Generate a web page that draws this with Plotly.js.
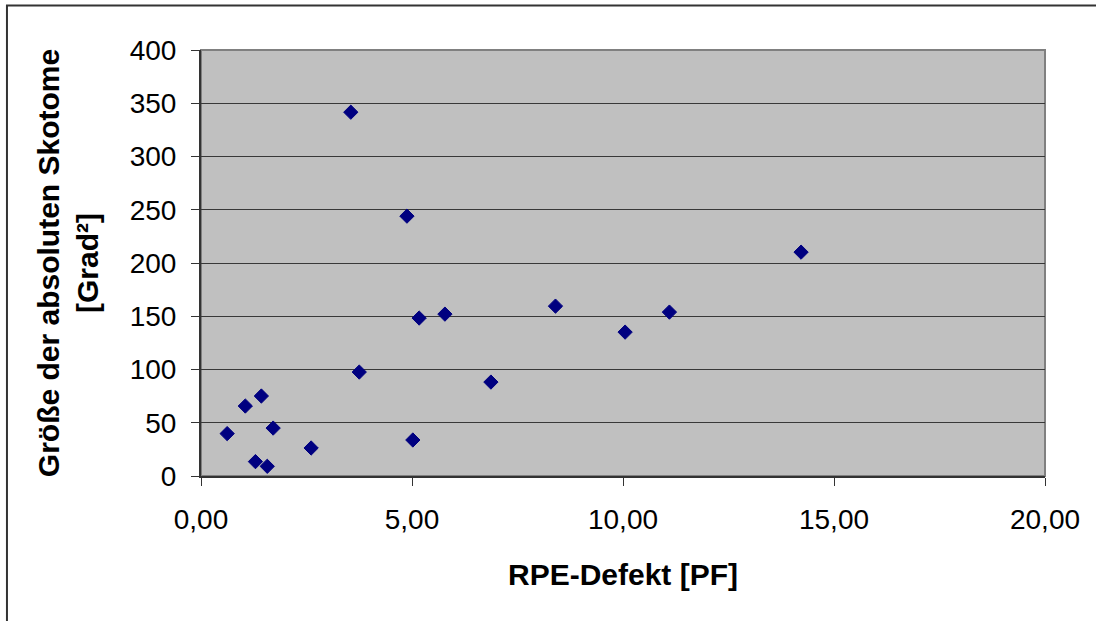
<!DOCTYPE html>
<html>
<head>
<meta charset="utf-8">
<script src="https://cdn.plot.ly/plotly-3.0.1.min.js"></script>
<style>
  html, body { margin: 0; padding: 0; background: #fff; }
  #chart { width: 1096px; height: 621px; }
</style>
</head>
<body>
<div id="chart"></div>
<script>
// RPE defect [PF] vs size of absolute scotoma [deg²]
const rpeDefekt = [0.62, 1.05, 1.29, 1.43, 1.57, 1.71, 2.61, 3.55, 3.75, 4.88, 5.02, 5.17, 5.78, 6.87, 8.40, 10.05, 11.10, 14.22];
const skotomGroesse = [39.8, 65.7, 13.5, 75.1, 9.1, 45.0, 26.3, 341.6, 97.6, 244.0, 33.8, 148.3, 152.0, 88.2, 159.5, 135.1, 153.9, 210.2];

const xTitle = 'RPE-Defekt [PF]';
const yTitle = 'Größe der absoluten Skotome<br>[Grad²]';

const fontFamily = '"Liberation Sans", Arial, sans-serif';

const trace = {
  x: rpeDefekt,
  y: skotomGroesse,
  type: 'scatter',
  mode: 'markers',
  marker: { symbol: 'diamond', size: 11, color: '#000080', line: { color: '#000080', width: 1 } },
  hoverinfo: 'x+y',
  showlegend: false
};

const layout = {
  width: 1096,
  height: 621,
  margin: { l: 201, r: 51, t: 50, b: 145, pad: 0 },
  paper_bgcolor: '#ffffff',
  plot_bgcolor: '#c0c0c0',
  separators: ',.',
  font: { family: fontFamily, color: '#000000', size: 28 },
  xaxis: {
    range: [0, 20],
    dtick: 5,
    tick0: 0,
    tickformat: '.2f',
    showgrid: false,
    zeroline: false,
    showline: true,
    linecolor: '#333333',
    linewidth: 2,
    ticks: 'outside',
    ticklen: 8,
    tickwidth: 1,
    tickcolor: '#333333',
    ticklabelstandoff: 9,
    tickfont: { size: 28, family: fontFamily },
    title: { text: xTitle, font: { size: 30, family: fontFamily, weight: 'bold' }, standoff: 30 },
    automargin: false,
    fixedrange: true
  },
  yaxis: {
    range: [0, 400],
    dtick: 50,
    tick0: 0,
    tickformat: 'd',
    showgrid: true,
    gridcolor: '#383838',
    gridwidth: 1,
    zeroline: false,
    showline: true,
    linecolor: '#333333',
    linewidth: 2,
    ticks: 'outside',
    ticklen: 8,
    tickwidth: 1,
    tickcolor: '#333333',
    ticklabelstandoff: 9,
    tickfont: { size: 28, family: fontFamily },
    title: { text: yTitle, font: { size: 30, family: fontFamily, weight: 'bold' }, standoff: 22 },
    automargin: false,
    fixedrange: true
  },
  shapes: [
    { type: 'rect', xref: 'paper', yref: 'paper', x0: 0, x1: 1, y0: 0, y1: 1,
      line: { color: '#808080', width: 2 }, layer: 'below' },
    { type: 'rect', xref: 'paper', yref: 'paper', x0: -0.2299, x1: 1.3, y0: -0.5, y1: 1.1045,
      line: { color: '#333333', width: 2 }, fillcolor: 'rgba(0,0,0,0)', layer: 'below' }
  ]
};

Plotly.newPlot('chart', [trace], layout, { displayModeBar: false, staticPlot: true });
</script>
</body>
</html>
